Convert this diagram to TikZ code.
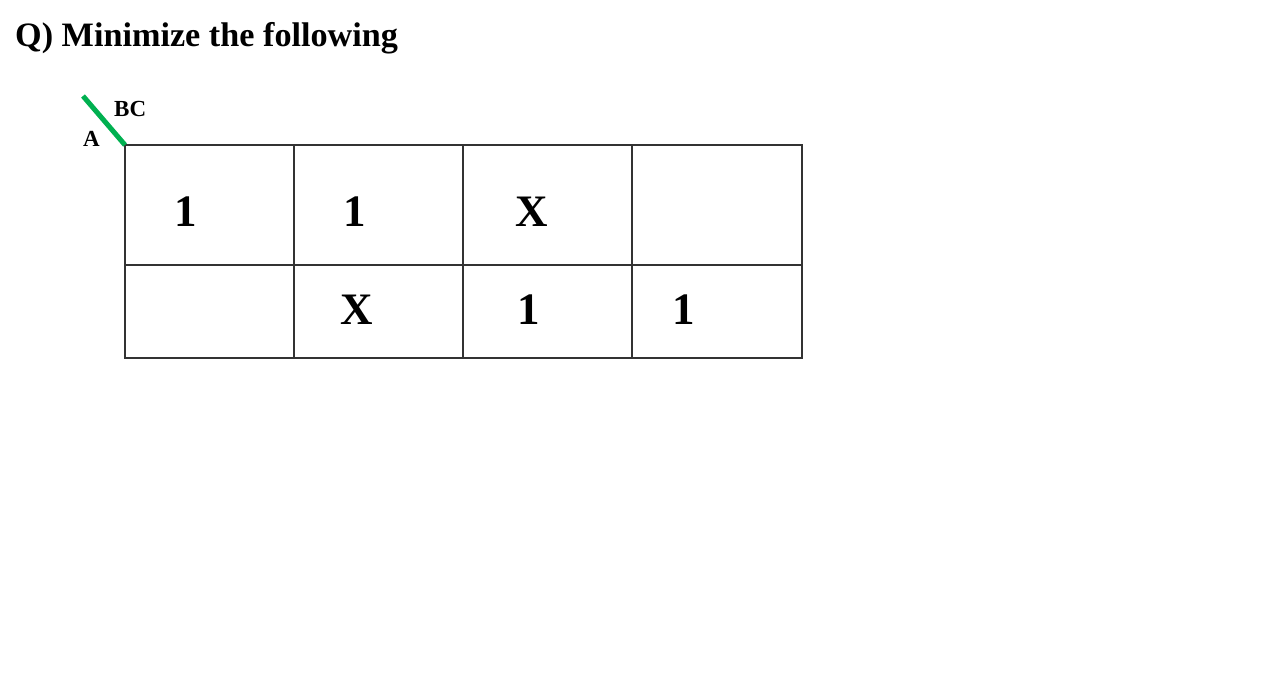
\documentclass[tikz,border=0pt]{standalone}
\usepackage{fontspec}
\setmainfont{Liberation Serif}
\definecolor{kgreen}{RGB}{0,176,80}
\begin{document}
\begin{tikzpicture}[x=1pt,y=-1pt,
  grid/.style={draw=black!80,line width=1.2pt},
  cellnum/.style={font=\fontsize{45}{45}\selectfont\bfseries,inner sep=0pt,anchor=center},
  lbl/.style={font=\fontsize{23}{23}\selectfont\bfseries,inner sep=0pt}]
\useasboundingbox (0,0) rectangle (1267,678);
\node[anchor=base west,inner sep=0pt,font=\fontsize{34.2}{34.2}\selectfont\bfseries] (title) at (15,46) {Q) Minimize the following};
% grid
\coordinate (tl) at (125,145);
\coordinate (br) at (802,358);
\draw[grid] (tl) rectangle (br);
\draw[grid] (125,265) -- (802,265);
\draw[grid] (294,145) -- (294,358);
\draw[grid] (463,145) -- (463,358);
\draw[grid] (632,145) -- (632,358);
% diagonal
\coordinate (d0) at (83,96);
\draw[kgreen,line width=5pt] (d0) -- (tl);
\node[lbl,anchor=base west] (bc) at (114,116) {BC};
\node[lbl,anchor=base west] (a) at (83,146) {A};
% cells
\node[cellnum] (c00) at (186,212) {1};
\node[cellnum] (c01) at (355,212) {1};
\node[cellnum] (c02) at (532,212) {X};
\node[cellnum] (c11) at (357,310) {X};
\node[cellnum] (c12) at (529,310) {1};
\node[cellnum] (c13) at (684,310) {1};
\end{tikzpicture}
\end{document}
